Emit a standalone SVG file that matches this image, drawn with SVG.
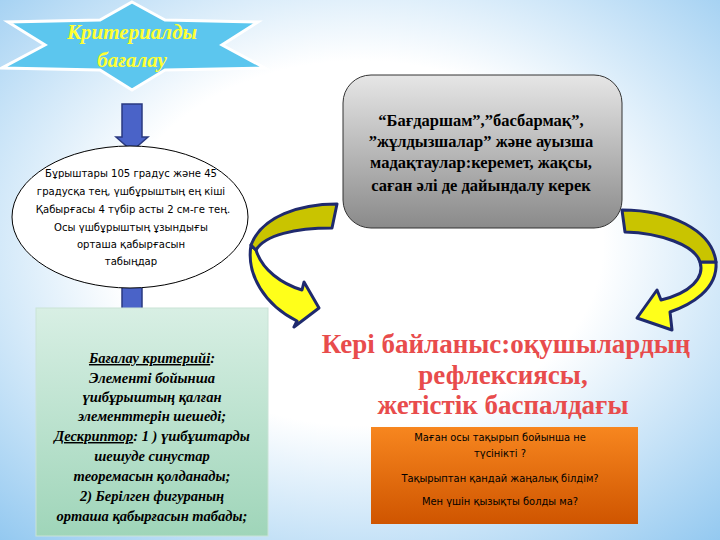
<svg xmlns="http://www.w3.org/2000/svg" width="720" height="540" viewBox="0 0 720 540">
<defs>
<radialGradient id="bg" cx="0.5" cy="0.45" r="0.75">
<stop offset="0.45" stop-color="#ffffff"/><stop offset="1" stop-color="#92c8f0"/></radialGradient>
<linearGradient id="gray" x1="0" y1="0" x2="0" y2="1"><stop offset="0" stop-color="#e6e6e6"/><stop offset="1" stop-color="#8a8a8a"/></linearGradient>
<linearGradient id="org" x1="0" y1="0" x2="0" y2="1"><stop offset="0" stop-color="#f7861f"/><stop offset="1" stop-color="#cf5500"/></linearGradient>
<linearGradient id="grn" x1="0" y1="0" x2="0" y2="1"><stop offset="0" stop-color="#d8efe4"/><stop offset="1" stop-color="#9fd5b9"/></linearGradient>
<style>
.ell{font-family:"DejaVu Sans Condensed","DejaVu Sans",sans-serif;font-stretch:condensed;font-size:11.2px;fill:#000;text-anchor:middle}
.grn{font-family:"Liberation Serif",serif;font-size:14.5px;font-weight:bold;font-style:italic;text-anchor:middle}
.gr{font-family:"Liberation Serif",serif;font-size:16.5px;font-weight:bold;text-anchor:middle}
.red{font-family:"Liberation Serif",serif;font-size:27px;font-weight:bold;fill:#e84c4c;text-anchor:middle}
.org{font-family:"DejaVu Sans Condensed","DejaVu Sans",sans-serif;font-stretch:condensed;font-size:11px;text-anchor:middle}
.barr{fill:#4a63c8;stroke:#2a3a80;stroke-width:1.5}
.yarr{fill:#ffff1a;stroke:#1f2a6e;stroke-width:3;stroke-linejoin:round}
.ytop{fill:#c9c400;stroke:#1f2a6e;stroke-width:3;stroke-linejoin:round}
</style>
</defs>
<rect width="720" height="540" fill="url(#bg)"/>
<g id="title">
<polygon points="132,2 165,20 258,22 222,45 265,68 165,70 132,90 100,70 2,68 45,45 8,22 100,20" fill="#5cc6ee" stroke="#ffffff" stroke-width="3"/>
<text x="132" y="39" font-family="Liberation Serif,serif" font-size="21" font-weight="bold" font-style="italic" fill="#ffff33" text-anchor="middle">Критериалды</text>
<text x="132" y="67" font-family="Liberation Serif,serif" font-size="21" font-weight="bold" font-style="italic" fill="#ffff33" text-anchor="middle">бағалау</text>
</g>
<g id="connectors">
<polygon class="barr" points="122,104 142,104 142,137 148,137 132,151 116,137 122,137"/>
<polygon class="barr" points="122,284 142,284 142,318 148,318 132,331 116,318 122,318"/>
<path class="yarr" d="M251,245 C246,275 265,305 297,321 L294,327 L319,308 L304,282 L302,290 C282,284 262,270 256,250 Z"/>
<path class="ytop" d="M337,204 C300,204 262,216 251,245 L256,250 C265,235 295,228 332,228 Z"/>
<path class="yarr" d="M716,262 C718,290 690,305 670,312 L672,330 L637,318 L657,290 L661,300 C690,293 705,278 700,262 Z"/>
<path class="ytop" d="M622,210 C670,210 712,230 716,262 L700,262 C695,245 660,233 625,232 Z"/>
</g>
<g id="ellipse">
<ellipse cx="130" cy="217" rx="118" ry="71" fill="#ffffff" stroke="#000" stroke-width="1"/>
<text class="ell" x="131" y="177">Бұрыштары 105 градус және 45</text>
<text class="ell" x="131" y="195">градусқа тең, үшбұрыштың ең кіші</text>
<text class="ell" x="133" y="213">Қабырғасы 4 түбір асты 2 см-ге тең.</text>
<text class="ell" x="131" y="231">Осы үшбұрыштың ұзындығы</text>
<text class="ell" x="131" y="248">орташа қабырғасын</text>
<text class="ell" x="131" y="265">табыңдар</text>
</g>
<g id="criteria">
<rect x="36" y="308" width="232" height="228" fill="url(#grn)" stroke="#c9e3d6" stroke-width="1"/>
<text class="grn" x="152" y="363"><tspan text-decoration="underline">Бағалау критерийі</tspan>:</text>
<text class="grn" x="152" y="383">Элементі бойынша</text>
<text class="grn" x="152" y="402">үшбұрыштың қалған</text>
<text class="grn" x="152" y="421">элементтерін шешеді;</text>
<text class="grn" x="152" y="441"><tspan text-decoration="underline">Дескриптор</tspan>: 1 ) үшбұштарды</text>
<text class="grn" x="152" y="461">шешуде синустар</text>
<text class="grn" x="152" y="481">теоремасын қолданады;</text>
<text class="grn" x="152" y="501">2) Берілген фигураның</text>
<text class="grn" x="152" y="521">орташа қабырғасын табады;</text>
</g>
<g id="praise">
<rect x="343" y="75" width="279" height="153" rx="28" fill="url(#gray)" stroke="#333" stroke-width="1"/>
<text class="gr" x="481" y="126">“Бағдаршам”,”басбармақ”,</text>
<text class="gr" x="481" y="147">”жұлдызшалар” және ауызша</text>
<text class="gr" x="481" y="168">мадақтаулар:керемет, жақсы,</text>
<text class="gr" x="481" y="191">саған әлі де дайындалу керек</text>
</g>
<g id="feedback">
<text class="red" x="506" y="353">Кері байланыс:оқушылардың</text>
<text class="red" x="503" y="384">рефлексиясы,</text>
<text class="red" x="503" y="414">жетістік баспалдағы</text>
</g>
<g id="questions">
<rect x="371" y="427" width="267" height="97" fill="url(#org)"/>
<text class="org" x="500" y="441">Маған осы тақырып бойынша не</text>
<text class="org" x="500" y="457">түсінікті ?</text>
<text class="org" x="500" y="482">Тақырыптан қандай жаңалық білдім?</text>
<text class="org" x="500" y="505">Мен үшін қызықты  болды  ма?</text>
</g>
</svg>
